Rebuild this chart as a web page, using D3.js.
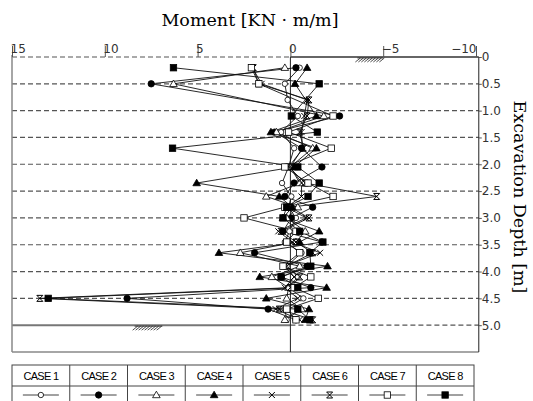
<!DOCTYPE html>
<html>
<head>
<meta charset="utf-8">
<script src="https://cdn.jsdelivr.net/npm/d3@7"></script>
<style>
  body { margin: 0; background: #fff; }
  svg { display: block; }
</style>
</head>
<body>
<div id="chart"></div>
<script>
// measuring depths [m]
var depths = [0.2, 0.5, 0.8, 1.1, 1.4, 1.7, 2.05, 2.35, 2.6, 2.8, 3.0, 3.25, 3.45, 3.65, 3.9, 4.1, 4.3, 4.5, 4.7, 4.9];

// moment per case [KN*m/m], null = no reading at that depth
var case1 = [-0.5, 0.3, 0.15, -0.4, 0.5, -0.2, 0.1, 0.45, -0.05, 0.1, -0.3, 0.05, 0.3, -0.6, 0.2, -0.4, 0.1, -0.7, 0.3, 0.2];
var case2 = [-0.3, 7.5, null, -2.65, 0.85, -0.6, -1.7, -0.2, 0.3, -1.2, -0.05, 0.4, -1.7, 1.93, -0.9, 0.5, -1.1, 8.8, 1.2, -0.3];
var case3 = [0.3, 6.3, null, -1.8, 0.75, -1.2, 0.0, -0.5, 1.3, -0.4, 0.2, -0.8, -0.3, 2.7, -0.5, 1.0, 0.1, 0.2, -0.6, 0.3];
var case4 = [-0.9, -0.25, null, -1.4, 1.05, -1.4, -0.2, 5.05, 0.6, -0.1, 0.4, -1.55, -0.5, 3.85, -2.0, 1.65, -1.95, 1.3, -1.0, -0.8];
var case5 = [2.05, 1.55, -0.9, -0.75, -0.6, -0.65, 0.0, -0.6, -0.6, 0.2, -0.85, 0.65, -0.1, -1.6, 0.3, -0.2, 0.3, -0.4, 0.8, -0.5];
var case6 = [2.0, 1.7, -1.0, -0.9, -0.5, -0.7, 0.1, -0.8, -4.65, 0.0, -1.0, 0.5, -0.3, -1.2, 0.2, -0.5, 0.0, 13.5, 0.6, -1.2];
var case7 = [2.1, 1.7, null, -2.3, 0.1, -2.2, 0.3, -0.95, -2.3, 0.3, 2.5, -0.3, 0.2, -0.5, 0.4, -1.1, -0.2, -1.5, 0.2, -0.3];
var case8 = [6.3, -1.55, null, -0.05, -1.45, 6.35, -0.4, -1.55, -0.95, 0.2, 0.4, -0.5, -1.75, -1.05, -1.1, 0.5, -0.4, 13.05, -0.4, -1.05];

var caseNames = ["CASE 1", "CASE 2", "CASE 3", "CASE 4", "CASE 5", "CASE 6", "CASE 7", "CASE 8"];
var caseSymbols = ["circleOpen", "circle", "triangleOpen", "triangle", "cross", "crossBar", "squareOpen", "square"];
var caseValues = [case1, case2, case3, case4, case5, case6, case7, case8];

var momentTicks = [15, 10, 5, 0, -5, -10];
var depthTicks = [0, 0.5, 1.0, 1.5, 2.0, 2.5, 3.0, 3.5, 4.0, 4.5, 5.0];

var width = 533,
  height = 401;

var svg = d3.select("#chart").append("svg")
  .attr("width", width)
  .attr("height", height);

var x = d3.scaleLinear().domain([15, -10]).range([12, 476]);
var y = d3.scaleLinear().domain([0, 5.5]).range([57, 352]);
var left = x(15), right = x(-10.15), top0 = y(0), bottom = y(5.5);

// titles
svg.append("text")
  .attr("x", 250).attr("y", 26)
  .attr("text-anchor", "middle")
  .style("font-family", "'DejaVu Serif', serif")
  .style("font-size", "17.5px")
  .text("Moment [KN · m/m]");

svg.append("text")
  .attr("transform", "translate(514," + 197 + ") rotate(90)")
  .attr("text-anchor", "middle")
  .style("font-family", "'DejaVu Serif', serif")
  .style("font-size", "17.5px")
  .text("Excavation Depth [m]");

// dashed depth lines
var grid = svg.append("g");
depthTicks.forEach(function(d) {
  var x0 = left, x1 = right;
  if (d === 0) x1 = x(0);
  if (d === 5.0) x0 = x(0);
  grid.append("line")
    .attr("x1", x0).attr("x2", x1)
    .attr("y1", y(d)).attr("y2", y(d))
    .attr("stroke", "#555")
    .attr("stroke-width", 1.2)
    .attr("stroke-dasharray", "5,3");
});

// ground surface and excavation bottom
svg.append("line")
  .attr("x1", x(0)).attr("x2", right).attr("y1", y(0)).attr("y2", y(0))
  .attr("stroke", "#333").attr("stroke-width", 1.3);
svg.append("line")
  .attr("x1", left).attr("x2", x(0)).attr("y1", y(5)).attr("y2", y(5))
  .attr("stroke", "#777").attr("stroke-width", 2);

function hatch(xa, xb, yy) {
  var g = svg.append("g");
  var a = x(xa), b = x(xb);
  for (var p = a; p < b - 3; p += 3) {
    g.append("line")
      .attr("x1", p).attr("y1", yy + 5)
      .attr("x2", p + 5).attr("y2", yy + 1)
      .attr("stroke", "#222").attr("stroke-width", 0.8);
  }
  g.append("line")
    .attr("x1", a + 2).attr("x2", b).attr("y1", yy + 1).attr("y2", yy + 1)
    .attr("stroke", "#222").attr("stroke-width", 0.8);
}
hatch(-3.5, -5, y(0));
hatch(8.5, 6.9, y(5));

// frame
svg.append("line")
  .attr("x1", left).attr("x2", left).attr("y1", top0 - 2).attr("y2", bottom)
  .attr("stroke", "#888").attr("stroke-width", 1.5);
svg.append("line")
  .attr("x1", left).attr("x2", right).attr("y1", bottom).attr("y2", bottom)
  .attr("stroke", "#888").attr("stroke-width", 1.5);
svg.append("line")
  .attr("x1", right).attr("x2", right).attr("y1", top0).attr("y2", bottom)
  .attr("stroke", "#222").attr("stroke-width", 1);
svg.append("line")
  .attr("x1", x(0)).attr("x2", x(0)).attr("y1", top0).attr("y2", bottom)
  .attr("stroke", "#222").attr("stroke-width", 1);

// top axis
var xAxis = svg.append("g")
  .attr("transform", "translate(0," + top0 + ")")
  .call(d3.axisTop(x).tickValues(momentTicks).tickSize(11));
xAxis.select(".domain").remove();
xAxis.selectAll("line").attr("stroke", "#555");
xAxis.selectAll("text")
  .attr("y", -4)
  .attr("x", function(d) { return d === -10 ? 0 : -2; })
  .attr("text-anchor", function(d) { return d === -10 ? "end" : "start"; })
  .style("font-family", "'DejaVu Sans', sans-serif")
  .style("font-size", "12px")
  .attr("fill", "#333");

// right axis
var yAxis = svg.append("g")
  .attr("transform", "translate(" + right + ",0)")
  .call(d3.axisRight(y).tickValues(depthTicks).tickSize(3)
    .tickFormat(function(d) { return d === 0 ? "0" : d3.format(".1f")(d); }));
yAxis.select(".domain").remove();
yAxis.selectAll("line").attr("stroke", "#555");
yAxis.selectAll("text")
  .attr("x", 3)
  .style("font-family", "'DejaVu Sans', sans-serif")
  .style("font-size", "12px")
  .attr("fill", "#333");

// markers
function marker(sel, kind) {
  if (kind === "circleOpen" || kind === "circle") {
    sel.append("circle").attr("r", kind === "circle" ? 3.2 : 2.7)
      .attr("fill", kind === "circle" ? "#000" : "#fff")
      .attr("stroke", "#000").attr("stroke-width", 0.8);
  } else if (kind === "triangleOpen" || kind === "triangle") {
    sel.append("path").attr("d", "M0,-3.8L3.8,2.7L-3.8,2.7Z")
      .attr("fill", kind === "triangle" ? "#000" : "#fff")
      .attr("stroke", "#000").attr("stroke-width", 0.8);
  } else if (kind === "squareOpen" || kind === "square") {
    sel.append("rect").attr("x", -3.2).attr("y", -3.2).attr("width", 6.4).attr("height", 6.4)
      .attr("fill", kind === "square" ? "#000" : "#fff")
      .attr("stroke", "#000").attr("stroke-width", 0.8);
  } else if (kind === "cross") {
    sel.append("path").attr("d", "M-3,-3L3,3M-3,3L3,-3")
      .attr("stroke", "#000").attr("stroke-width", 1);
  } else {
    sel.append("path").attr("d", "M-3,-3L3,3M-3,3L3,-3M-3,-3L3,-3M-3,3L3,3")
      .attr("stroke", "#000").attr("stroke-width", 1);
  }
}

var line = d3.line()
  .x(function(d) { return x(d.m); })
  .y(function(d) { return y(d.depth); });

function casePoints(vals) {
  return depths.map(function(d, j) { return { depth: d, m: vals[j] }; })
    .filter(function(d) { return d.m !== null; });
}

var plot = svg.append("g");
caseValues.forEach(function(vals) {
  plot.append("path")
    .datum(casePoints(vals))
    .attr("d", line)
    .attr("fill", "none")
    .attr("stroke", "#111")
    .attr("stroke-width", 0.9);
});
caseValues.forEach(function(vals, i) {
  plot.append("g").selectAll("g")
    .data(casePoints(vals))
    .enter().append("g")
    .attr("transform", function(d) { return "translate(" + x(d.m) + "," + y(d.depth) + ")"; })
    .each(function() { marker(d3.select(this), caseSymbols[i]); });
});

// legend table
var tLeft = 12, tRight = 474, tTop = 365, rowH = 21;
var colW = (tRight - tLeft) / caseNames.length;
var table = svg.append("g");
table.append("rect")
  .attr("x", tLeft).attr("y", tTop)
  .attr("width", tRight - tLeft).attr("height", rowH * 2)
  .attr("fill", "none").attr("stroke", "#444").attr("stroke-width", 1);
table.append("line")
  .attr("x1", tLeft).attr("x2", tRight).attr("y1", tTop + rowH).attr("y2", tTop + rowH)
  .attr("stroke", "#444");
caseNames.forEach(function(name, i) {
  var cx = tLeft + colW * (i + 0.5);
  if (i > 0) {
    table.append("line")
      .attr("x1", tLeft + colW * i).attr("x2", tLeft + colW * i)
      .attr("y1", tTop).attr("y2", tTop + rowH * 2)
      .attr("stroke", "#444");
  }
  table.append("text")
    .attr("x", cx).attr("y", tTop + 14.5)
    .attr("text-anchor", "middle")
    .style("font-family", "'Liberation Sans', Arial, sans-serif")
    .style("font-size", "11px")
    .style("letter-spacing", "-0.7px")
    .text(name);
  table.append("line")
    .attr("x1", cx - 18).attr("x2", cx + 18)
    .attr("y1", tTop + rowH + 9).attr("y2", tTop + rowH + 9)
    .attr("stroke", "#111").attr("stroke-width", 0.8);
  var m = table.append("g").attr("transform", "translate(" + cx + "," + (tTop + rowH + 9) + ")");
  marker(m, caseSymbols[i]);
});
</script>
</body>
</html>
